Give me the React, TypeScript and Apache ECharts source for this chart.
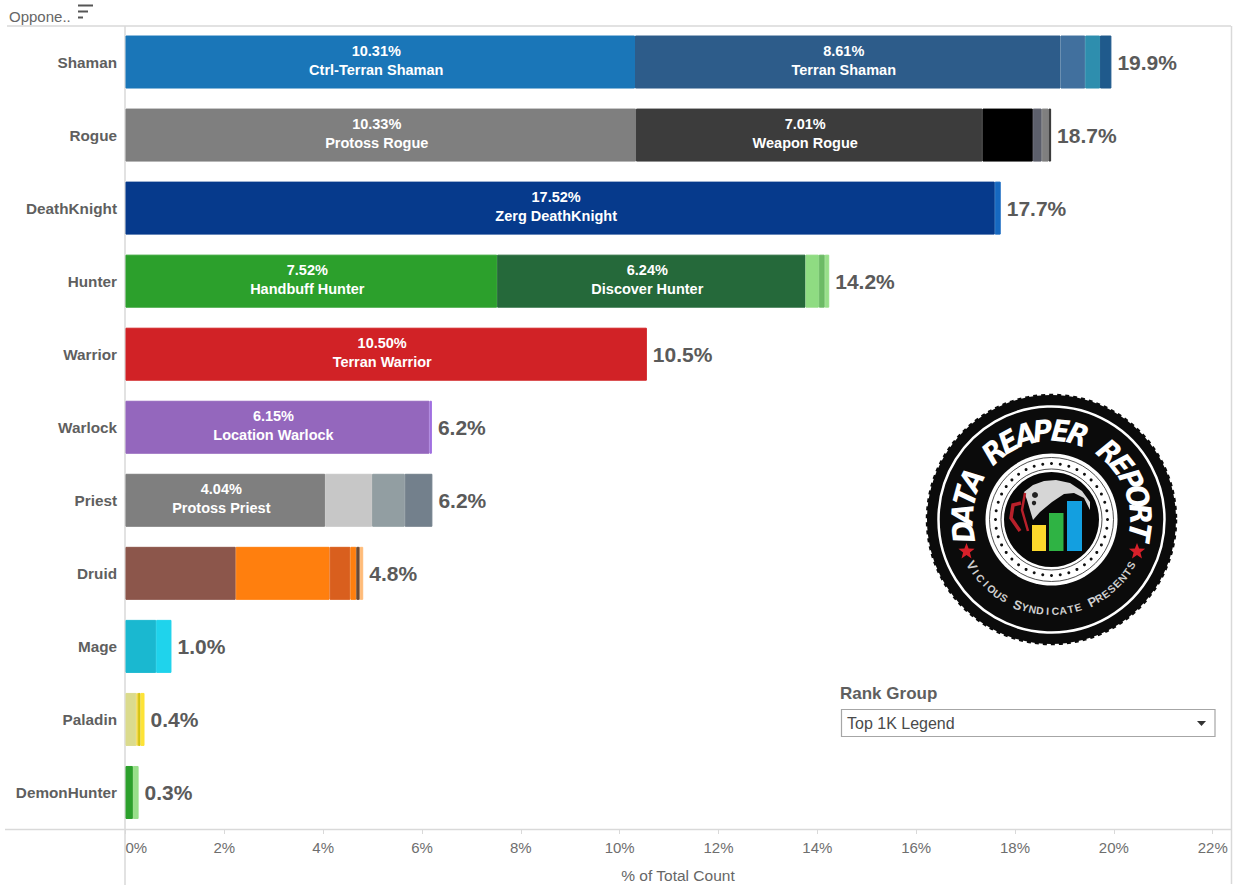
import React, { useEffect, useRef } from "react";
import * as echarts from "echarts";

const categories = ["Shaman", "Rogue", "DeathKnight", "Hunter", "Warrior", "Warlock", "Priest", "Druid", "Mage", "Paladin", "DemonHunter"];
const totalLabels = ["19.9%", "18.7%", "17.7%", "14.2%", "10.5%", "6.2%", "6.2%", "4.8%", "1.0%", "0.4%", "0.3%"];

const shamanValues = [10.31, 8.61, 0.5, 0.3, 0.23];
const rogueValues = [10.33, 7.01, 1.02, 0.18, 0.14, 0.05];
const deathKnightValues = [17.59, 0.12];
const hunterValues = [7.52, 6.24, 0.27, 0.12, 0.09];
const warriorValues = [10.55];
const warlockValues = [6.15, 0.05];
const priestValues = [4.04, 0.95, 0.66, 0.56];
const druidValues = [2.23, 1.9, 0.42, 0.12, 0.07, 0.07];
const mageValues = [0.62, 0.31];
const paladinValues = [0.22, 0.03, 0.055, 0.08];
const demonHunterValues = [0.15, 0.115];

const shamanColors = ["#1a76b8", "#2d5c8a", "#41709e", "#2e8eae", "#1f5a8c"];
const rogueColors = ["#7f7f7f", "#3c3c3c", "#000000", "#5c5f6b", "#7f7f7f", "#333333"];
const deathKnightColors = ["#063a8c", "#1668c0"];
const hunterColors = ["#2ca02c", "#25693a", "#8fdc82", "#6dbb66", "#98df8a"];
const warriorColors = ["#d12226"];
const warlockColors = ["#9467bd", "#a070e0"];
const priestColors = ["#7f7f7f", "#c7c7c7", "#929ea2", "#73808c"];
const druidColors = ["#8c564b", "#ff7f0e", "#d95f1e", "#ff7f0e", "#6b4a35", "#ffbb78"];
const mageColors = ["#1ab8d0", "#1fd3ec"];
const paladinColors = ["#dbdb8d", "#f5d94a", "#d4c411", "#fde336"];
const demonHunterColors = ["#2ca02c", "#98df8a"];

const shamanNames = ["10.31%\nCtrl-Terran Shaman", "8.61%\nTerran Shaman"];
const rogueNames = ["10.33%\nProtoss Rogue", "7.01%\nWeapon Rogue"];
const deathKnightNames = ["17.52%\nZerg DeathKnight"];
const hunterNames = ["7.52%\nHandbuff Hunter", "6.24%\nDiscover Hunter"];
const warriorNames = ["10.50%\nTerran Warrior"];
const warlockNames = ["6.15%\nLocation Warlock"];
const priestNames = ["4.04%\nProtoss Priest"];

const allValues = [shamanValues, rogueValues, deathKnightValues, hunterValues, warriorValues, warlockValues, priestValues, druidValues, mageValues, paladinValues, demonHunterValues];
const allColors = [shamanColors, rogueColors, deathKnightColors, hunterColors, warriorColors, warlockColors, priestColors, druidColors, mageColors, paladinColors, demonHunterColors];
const allNames: string[][] = [shamanNames, rogueNames, deathKnightNames, hunterNames, warriorNames, warlockNames, priestNames, [], [], [], []];

const FONT = "'Liberation Sans', Arial, sans-serif";
const LOGO_X = 1051.5;
const LOGO_Y = 519.5;

function starPoints(cx: number, cy: number, r: number) {
  const pts: number[][] = [];
  for (let i = 0; i < 10; i++) {
    const rad = i % 2 === 0 ? r : r * 0.42;
    const a = (Math.PI / 5) * i;
    pts.push([cx + rad * Math.sin(a), cy - rad * Math.cos(a)]);
  }
  return pts;
}

function logoElements() {
  const cx = LOGO_X;
  const cy = LOGO_Y;
  const els: any[] = [];
  const circle = (r: number, style: any, z = 10) => els.push({ type: "circle", z, shape: { cx, cy, r }, style });
  circle(124.5, { fill: "#0b0b0b", stroke: "#0b0b0b", lineWidth: 2.5, lineDash: [4, 4] });
  circle(113, { fill: "none", stroke: "#ffffff", lineWidth: 2.5 }, 11);
  circle(66, { fill: "#ffffff" }, 11);
  circle(62, { fill: "none", stroke: "#222222", lineWidth: 0.8 }, 12);
  circle(50.5, { fill: "none", stroke: "#222222", lineWidth: 0.8 }, 12);
  circle(47.5, { fill: "#080808" }, 12);
  for (let i = 0; i < 40; i++) {
    const a = (i / 40) * Math.PI * 2;
    els.push({ type: "circle", z: 13, shape: { cx: cx + 56 * Math.cos(a), cy: cy + 56 * Math.sin(a), r: 1.5 }, style: { fill: "#111111" } });
  }
  // Reaper hood
  els.push({
    type: "polygon", z: 13,
    shape: { points: [[1024, 492], [1033, 485], [1044, 481], [1056, 480], [1070, 483], [1082, 491], [1090, 502], [1090, 510], [1084, 498], [1074, 493], [1064, 494], [1052, 502], [1040, 512], [1033, 520], [1030, 510], [1027, 500]] },
    style: { fill: "#d6d6d6" },
  });
  els.push({ type: "circle", z: 14, shape: { cx: 1035, cy: 495, r: 3 }, style: { fill: "#222222" } });
  els.push({ type: "circle", z: 14, shape: { cx: 1034, cy: 503, r: 2.2 }, style: { fill: "#222222" } });
  // Scythe
  els.push({ type: "polyline", z: 14, shape: { points: [[1021, 503], [1013, 505], [1011, 518], [1020, 531]] }, style: { fill: "none", stroke: "#b8202a", lineWidth: 3.5 } });
  els.push({ type: "polyline", z: 14, shape: { points: [[1025, 493], [1022, 510], [1028, 531]] }, style: { fill: "none", stroke: "#b8202a", lineWidth: 2.5 } });
  // Logo bars
  els.push({ type: "rect", z: 15, shape: { x: 1032, y: 525, width: 14, height: 26 }, style: { fill: "#fcd82c" } });
  els.push({ type: "rect", z: 15, shape: { x: 1049, y: 513, width: 14.5, height: 38 }, style: { fill: "#2fb344" } });
  els.push({ type: "rect", z: 15, shape: { x: 1067, y: 501, width: 15, height: 50 }, style: { fill: "#139fe0" } });
  // Stars
  els.push({ type: "polygon", z: 15, shape: { points: starPoints(966.5, 551.5, 8.5) }, style: { fill: "#d8202a" } });
  els.push({ type: "polygon", z: 15, shape: { points: starPoints(1137, 551.5, 8.5) }, style: { fill: "#d8202a" } });
  // Arc text
  const title = "DATA REAPER REPORT";
  const span = 196;
  title.split("").forEach((ch, i) => {
    if (ch === " ") return;
    const deg = -span / 2 + (span * i) / (title.length - 1);
    const t = (deg * Math.PI) / 180;
    els.push({
      type: "text", z: 16, x: cx + 89 * Math.sin(t), y: cy - 89 * Math.cos(t), rotation: -t,
      style: { text: ch, fill: "#ffffff", font: "italic bold 30px 'DejaVu Sans Condensed', 'DejaVu Sans', sans-serif", align: "center", verticalAlign: "middle" },
    });
  });
  const sub = "VICIOUS SYNDICATE PRESENTS";
  sub.split("").forEach((ch, i) => {
    if (ch === " ") return;
    const deg = -60 + (120 * i) / (sub.length - 1);
    const t = (deg * Math.PI) / 180;
    els.push({
      type: "text", z: 16, x: cx + 92 * Math.sin(t), y: cy + 92 * Math.cos(t), rotation: t,
      style: { text: ch, fill: "#cfcfcf", font: `bold ${i === 0 || i === 8 || i === 18 ? 13 : 10.5}px ${FONT}`, align: "center", verticalAlign: "middle" },
    });
  });
  return els;
}

function chromeElements() {
  const line = "#d9d9d9";
  const els: any[] = [
    { type: "line", shape: { x1: 7, y1: 26, x2: 1231, y2: 26 }, style: { stroke: line, lineWidth: 1.5 } },
    { type: "line", shape: { x1: 125, y1: 26, x2: 125, y2: 885 }, style: { stroke: line, lineWidth: 1.5 } },
    { type: "line", shape: { x1: 5, y1: 829.5, x2: 1231, y2: 829.5 }, style: { stroke: line, lineWidth: 1.5 } },
    { type: "line", shape: { x1: 1231.5, y1: 26, x2: 1231.5, y2: 884 }, style: { stroke: line, lineWidth: 1.5 } },
    { type: "text", x: 9, y: 16, style: { text: "Oppone..", fill: "#666666", font: `15px ${FONT}`, align: "left", verticalAlign: "middle" } },
    { type: "rect", shape: { x: 78, y: 4.5, width: 15, height: 2 }, style: { fill: "#555555" } },
    { type: "rect", shape: { x: 78, y: 10.5, width: 10, height: 2 }, style: { fill: "#555555" } },
    { type: "rect", shape: { x: 78, y: 16.5, width: 5, height: 2 }, style: { fill: "#555555" } },
    { type: "text", x: 840, y: 693, style: { text: "Rank Group", fill: "#5f5f5f", font: `bold 17px ${FONT}`, align: "left", verticalAlign: "middle" } },
    { type: "rect", shape: { x: 841.5, y: 709.5, width: 373.5, height: 27 }, style: { fill: "#ffffff", stroke: "#a6a6a6", lineWidth: 1.2 } },
    { type: "text", x: 847, y: 723.5, style: { text: "Top 1K Legend", fill: "#4a4a4a", font: `16px ${FONT}`, align: "left", verticalAlign: "middle" } },
    { type: "polygon", shape: { points: [[1197, 721], [1206, 721], [1201.5, 726]] }, style: { fill: "#333333" } },
  ];
  return els;
}

function buildSeries() {
  const series: any[] = [];
  allValues.forEach((values, row) => {
    values.forEach((v, i) => {
      const labelText = allNames[row][i];
      series.push({
        type: "bar",
        stack: "total",
        barWidth: 53,
        name: labelText ? labelText.split("\n")[1] : `${categories[row]} ${i + 1}`,
        data: categories.map((_, r) => (r === row ? v : null)),
        itemStyle: { color: allColors[row][i], borderColor: allColors[row][i], borderWidth: 1 },
        label: labelText
          ? {
              show: true,
              position: "inside",
              formatter: labelText,
              color: "#ffffff",
              fontFamily: FONT,
              fontWeight: "bold",
              fontSize: 14.5,
              lineHeight: 19,
              align: "center",
              offset: [-4, -2],
            }
          : { show: false },
      });
    });
  });
  series.push({
    type: "scatter",
    name: "Total",
    symbolSize: 1,
    itemStyle: { color: "transparent", opacity: 1 },
    data: allValues.map((values, r) => [values.reduce((a, b) => a + b, 0), r]),
    label: {
      show: true,
      position: "right",
      distance: 5.5,
      formatter: (p: any) => totalLabels[p.dataIndex],
      color: "#5a5a5a",
      opacity: 1,
      fontFamily: FONT,
      fontWeight: "bold",
      fontSize: 21,
    },
    z: 5,
  });
  return series;
}

export default function App() {
  const ref = useRef<HTMLDivElement>(null);
  useEffect(() => {
    document.body.style.margin = "0";
    const chart = echarts.init(ref.current!, null, { renderer: "svg" });
    chart.setOption({
      animation: false,
      backgroundColor: "#ffffff",
      grid: { left: 125.5, top: 25.5, width: 1105, height: 803.5, containLabel: false, outerBoundsMode: "none" },
      xAxis: {
        type: "value",
        min: 0,
        max: 22.36,
        interval: 2,
        splitLine: { show: false },
        axisLine: { show: false },
        axisTick: { show: true, length: 5, lineStyle: { color: "#d9d9d9" } },
        axisLabel: {
          formatter: (v: number) => `${v}%`,
          color: "#6e6e6e",
          fontFamily: FONT,
          fontSize: 15,
          margin: 11,
          alignMinLabel: "left",
          showMaxLabel: false,
        },
        name: "% of Total Count",
        nameLocation: "middle",
        nameGap: 38,
        nameTextStyle: { color: "#666666", fontFamily: FONT, fontSize: 15.5 },
      },
      yAxis: {
        type: "category",
        inverse: true,
        data: categories,
        axisLine: { show: false },
        axisTick: { show: false },
        axisLabel: { color: "#5f5f5f", fontFamily: FONT, fontWeight: "bold", fontSize: 15.3, margin: 8.5 },
      },
      series: buildSeries(),
      graphic: { elements: [...chromeElements(), ...logoElements()] },
    });
    return () => chart.dispose();
  }, []);
  return <div ref={ref} style={{ width: 1239, height: 890 }} />;
}
